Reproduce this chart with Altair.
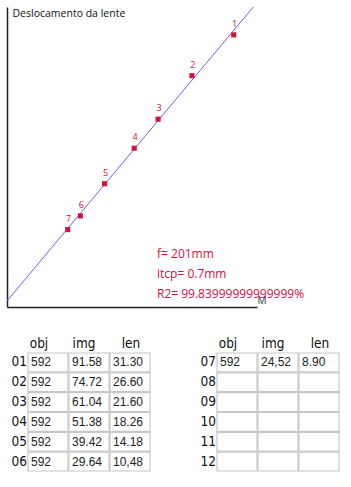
import altair as alt
import pandas as pd

# ---------------- data ----------------
point_id = ["1", "2", "3", "4", "5", "6", "7"]
img_vals = [91.58, 74.72, 61.04, 51.38, 39.42, 29.64, 24.52]
len_vals = [31.30, 26.60, 21.60, 18.26, 14.18, 10.48, 8.90]
fit_x = [0, 99.5]
fit_y = [0.7, 34.5]
x_domain = [0, 101]
y_domain = [0, 34.5]
stats_text = ["f= 201mm", "itcp= 0.7mm", "R2= 99.83999999999999%"]

columns = ["obj", "img", "len"]
rows_left = ["01", "02", "03", "04", "05", "06"]
rows_right = ["07", "08", "09", "10", "11", "12"]
obj_cells = ["592", "592", "592", "592", "592", "592", "592"]
img_cells = ["91.58", "74.72", "61.04", "51.38", "39.42", "29.64", "24,52"]
len_cells = ["31.30", "26.60", "21.60", "18.26", "14.18", "10,48", "8.90"]

RED = "#d4103c"
BLUE = "#7060e4"
MAIN_FONT = "Open Sans"
NARROW_FONT = "Liberation Sans Narrow, DejaVu Sans Condensed, sans-serif"

# ---------------- scatter / fit chart ----------------
pts = pd.DataFrame({"id": point_id, "img": img_vals, "len": len_vals})
fit = pd.DataFrame({"img": fit_x, "len": fit_y})

xs = alt.Scale(domain=x_domain, nice=False, zero=False)
ys = alt.Scale(domain=y_domain, nice=False, zero=False)

x_axis = alt.Axis(title="M", labels=False, ticks=False, grid=False, domain=True,
                  domainColor="#222", domainWidth=1.5, titleX=250, titleY=-4,
                  titleAlign="left", titleBaseline="alphabetic", titleFontSize=10,
                  titleFontWeight="normal", titleColor="#333", titleFont=MAIN_FONT,
                  minExtent=0)
y_axis = alt.Axis(title="Deslocamento da lente", labels=False, ticks=False, grid=False,
                  domain=True, domainColor="#222", domainWidth=1.5, titleX=5, titleY=9.5,
                  titleAngle=0, titleAlign="left", titleBaseline="alphabetic",
                  titleFontSize=10.5, titleFontWeight="normal", titleColor="#111",
                  titleFont=MAIN_FONT, minExtent=0)

line = alt.Chart(fit).mark_line(color=BLUE, strokeWidth=1, clip=True).encode(
    x=alt.X("img:Q", scale=xs, axis=x_axis),
    y=alt.Y("len:Q", scale=ys, axis=y_axis),
)
squares = alt.Chart(pts).mark_square(color=RED, size=26, opacity=1).encode(
    x=alt.X("img:Q", scale=xs), y=alt.Y("len:Q", scale=ys)
)
labels = alt.Chart(pts).mark_text(color=RED, fontSize=9, font=MAIN_FONT, dy=-8, dx=1,
                                  baseline="alphabetic").encode(
    x=alt.X("img:Q", scale=xs), y=alt.Y("len:Q", scale=ys), text="id:N"
)
stats = alt.Chart(alt.Data(values=[{"k": 1}])).mark_text(
    color=RED, fontSize=12, font=MAIN_FONT, align="left", baseline="alphabetic",
    lineHeight=20
).encode(x=alt.value(150), y=alt.value(251), text=alt.value(stats_text))

top = alt.layer(line, squares, labels, stats).properties(width=250, height=300)

# ---------------- tables ----------------
def table_df(rows):
    recs = []
    all_rows = rows_left + rows_right
    for r in rows:
        i = all_rows.index(r)
        vals = [obj_cells[i], img_cells[i], len_cells[i]] if i < len(obj_cells) else ["", "", ""]
        for c, v in zip(columns, vals):
            recs.append({"row": r, "col": c, "val": v})
    return pd.DataFrame(recs)

header_offset = {
    "condition": [
        {"test": "datum.value === 'obj'", "value": -9},
        {"test": "datum.value === 'img'", "value": -5},
    ],
    "value": 1,
}

def table(rows):
    df = table_df(rows)
    # the left 21 px of the band range are left free for the row labels
    xband = alt.Scale(domain=columns, paddingInner=0.025, paddingOuter=0.256, align=1)
    yband = alt.Scale(domain=rows, paddingInner=0.05, paddingOuter=0)
    xax = alt.Axis(orient="top", title=None, ticks=False, domain=False, labelAngle=0,
                   labelPadding=3, labelFontSize=13.5, labelFont=NARROW_FONT,
                   labelColor="#111", labelOffset=header_offset, minExtent=20)
    rect = alt.Chart(df).mark_rect(fill="white", stroke="#c8c8c8", strokeWidth=1.2).encode(
        x=alt.X("col:N", scale=xband, sort=columns, axis=xax),
        y=alt.Y("row:N", scale=yband, sort=rows, axis=None),
    )
    txt = alt.Chart(df).mark_text(align="left", dx=3, fontSize=12,
                                  font="Liberation Sans", color="#222").encode(
        x=alt.X("col:N", scale=xband, sort=columns, bandPosition=0),
        y=alt.Y("row:N", scale=yband, sort=rows),
        text="val:N",
    )
    rowlab = alt.Chart(df).transform_filter(alt.datum.col == "obj").mark_text(
        align="right", dx=-1, fontSize=13.5, font=NARROW_FONT, color="#111"
    ).encode(
        x=alt.X("col:N", scale=xband, sort=columns, bandPosition=0),
        y=alt.Y("row:N", scale=yband, sort=rows),
        text="row:N",
    )
    return alt.layer(rect, txt, rowlab).properties(width=143, height=118)

bottom = alt.hconcat(table(rows_left), table(rows_right), spacing=45)

chart = alt.vconcat(top, bottom, spacing=26).properties(
    padding={"left": 7, "top": 7, "right": 0, "bottom": 0}
).configure_view(stroke=None)

chart.save("out.html", embed_options={"renderer": "svg", "actions": False})
